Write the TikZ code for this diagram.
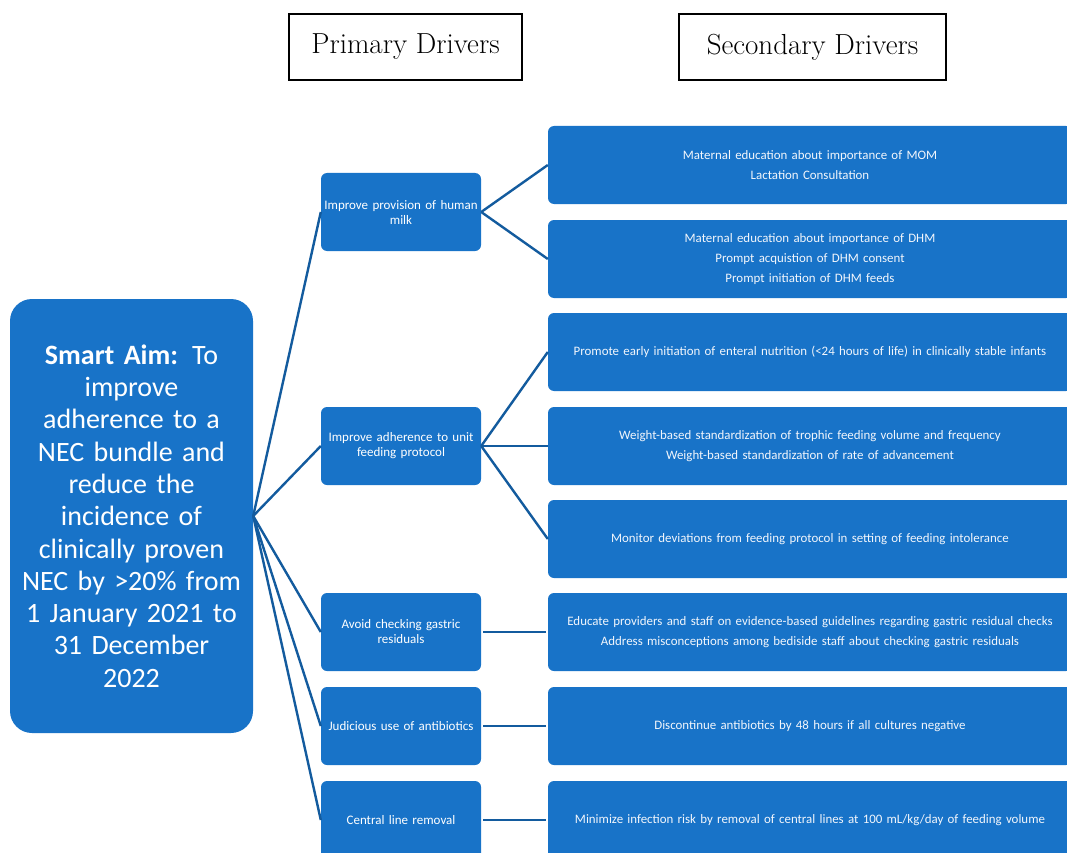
\documentclass[tikz,border=0pt]{standalone}
\usepackage{fontspec}
\newfontfamily\calfont{Carlito}
\definecolor{boxblue}{HTML}{1873C8}
\definecolor{lineblue}{HTML}{135B9E}
\definecolor{softwhite}{HTML}{F2F6FC}
\tikzset{
  hdbox/.style={draw=black, line width=1.6pt, fill=white, minimum height=66pt, inner sep=0pt,
    font=\fontsize{29}{33}\selectfont},
  aimbox/.style={fill=boxblue, rounded corners=22pt, minimum width=243pt, minimum height=434pt,
    text width=238pt, align=center, text=white, inner sep=0pt,
    font=\calfont\fontsize{28}{32.3}\selectfont},
  pbox/.style={fill=boxblue, rounded corners=6pt, minimum width=160pt, minimum height=78pt,
    text width=158pt, align=center, text=white, inner sep=0pt,
    font=\calfont\fontsize{13}{15}\selectfont},
  sbox/.style={fill=boxblue, rounded corners=6pt, minimum width=524pt, minimum height=78pt,
    text width=518pt, align=center, text=softwhite, inner sep=0pt,
    font=\calfont\fontsize{12.9}{20}\selectfont},
  link/.style={draw=lineblue, line width=2.4pt}
}
\begin{document}
\begin{tikzpicture}[x=1pt,y=-1pt]
\clip (0,0) rectangle (1067,853);
\fill[white] (0,0) rectangle (1067,853);

% headers
\node[hdbox, minimum width=233pt] (hp) at (405.5,47) {\raisebox{-3pt}{Primary Drivers}};
\node[hdbox, minimum width=267pt] (hs) at (812.5,47) {\raisebox{-3pt}{Secondary Drivers}};

% aim
\node[aimbox] (aim) at (131.5,516) {\textbf{Smart Aim:} To\\improve\\adherence to a\\NEC bundle and\\reduce the\\incidence of\\clinically proven\\NEC by >20\% from\\1 January 2021 to\\31 December\\2022};

% primary drivers
\node[pbox] (p1) at (401,212) {Improve provision of human\\milk};
\node[pbox] (p2) at (401,446) {Improve adherence to unit\\feeding protocol};
\node[pbox] (p3) at (401,632) {Avoid checking gastric\\residuals};
\node[pbox] (p4) at (401,726) {Judicious use of antibiotics};
\node[pbox] (p5) at (401,820) {Central line removal};

% secondary drivers
\node[sbox] (s1) at (810,165) {Maternal education about importance of MOM\\Lactation Consultation};
\node[sbox] (s2) at (810,259) {Maternal education about importance of DHM\\Prompt acquistion of DHM consent\\Prompt initiation of DHM feeds};
\node[sbox] (s3) at (810,352) {Promote early initiation of enteral nutrition (<24 hours of life) in clinically stable infants};
\node[sbox] (s4) at (810,446) {Weight-based standardization of trophic feeding volume and frequency\\Weight-based standardization of rate of advancement};
\node[sbox] (s5) at (810,539) {Monitor deviations from feeding protocol in setting of feeding intolerance};
\node[sbox] (s6) at (810,632) {Educate providers and staff on evidence-based guidelines regarding gastric residual checks\\Address misconceptions among bediside staff about checking gastric residuals};
\node[sbox] (s7) at (810,726) {Discontinue antibiotics by 48 hours if all cultures negative};
\node[sbox] (s8) at (810,820) {Minimize infection risk by removal of central lines at 100 mL/kg/day of feeding volume};

% connectors
\foreach \p in {p1,p2,p3,p4,p5} \draw[link] (aim.east) -- (\p.west);
\draw[link] (p1.east) -- (s1.west);
\draw[link] (p1.east) -- (s2.west);
\draw[link] (p2.east) -- (s3.west);
\draw[link] (p2.east) -- (s4.west);
\draw[link] (p2.east) -- (s5.west);
\draw[link] ([xshift=2pt]p3.east) -- ([xshift=-2pt]s6.west);
\draw[link] ([xshift=2pt]p4.east) -- ([xshift=-2pt]s7.west);
\draw[link] ([xshift=2pt]p5.east) -- ([xshift=-2pt]s8.west);
\end{tikzpicture}
\end{document}
